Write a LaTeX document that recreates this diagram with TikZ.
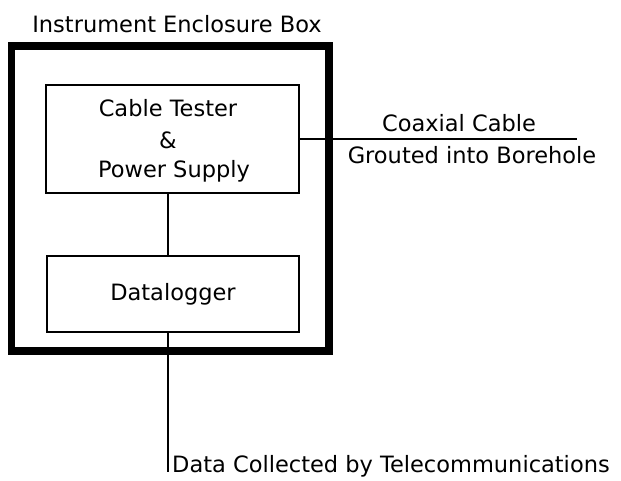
\documentclass[tikz,border=0pt]{standalone}
\usepackage{fontspec}
\setmainfont{DejaVu Sans}
\tikzset{
  every node/.style={font=\fontsize{22.5}{27}\selectfont, inner sep=0pt},
  unit/.style={draw, line width=1.5pt, rectangle},
  wire/.style={line width=1.5pt},
  enclosure/.style={draw, line width=7.5pt},
}
\begin{document}
\begin{tikzpicture}[x=1pt,y=-1pt]
\useasboundingbox (0,0) rectangle (621,480);
\draw[enclosure] (11.5,46) rectangle (329,351);
\node (title) at (177,24) {Instrument Enclosure Box};
\node[unit, minimum width=253pt, minimum height=108pt] (tester) at (172.5,139) {};
\node (l1) at (168,108) {Cable Tester};
\node (l2) at (168,140) {\&};
\node (l3) at (174,171) {Power Supply};
\node[unit, minimum width=252pt, minimum height=76pt] (logger) at (173,294) {Datalogger};
\coordinate (coax) at (577,138);
\draw[wire] (tester.east) -- (tester.east -| coax);
\node (coaxlabel) at (459,123) {Coaxial Cable};
\node (grout) at (472,155) {Grouted into Borehole};
\draw[wire] ([xshift=-4.5pt]tester.south) -- ([xshift=-5pt]logger.north);
\coordinate (tele) at (168,472);
\draw[wire] ([xshift=-5pt]logger.south) -- (tele);
\node[anchor=west] (data) at (172,466) {Data Collected by Telecommunications};
\end{tikzpicture}
\end{document}
